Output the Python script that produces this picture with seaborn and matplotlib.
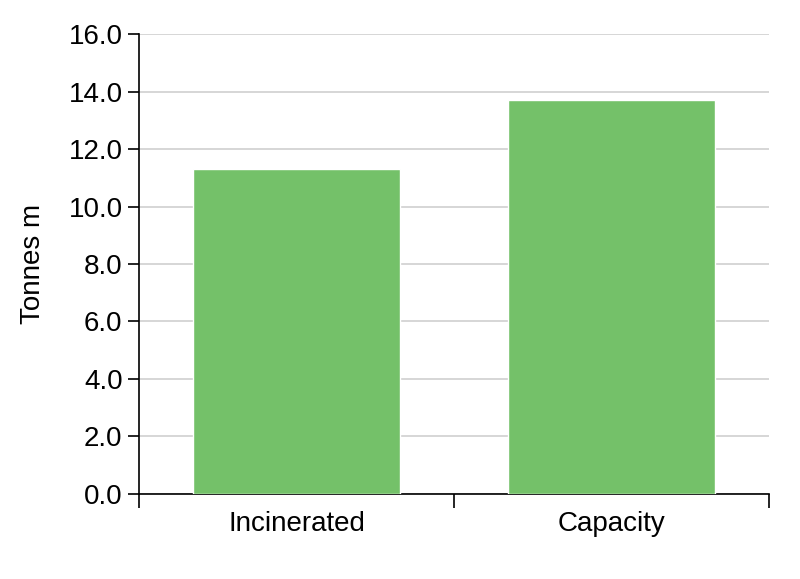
import matplotlib
matplotlib.use("Agg")
import matplotlib.pyplot as plt
import seaborn as sns
import pandas as pd
from matplotlib.ticker import FixedLocator

categories = ["Incinerated", "Capacity"]
values = [11.3, 13.7]
yticks = [0, 2, 4, 6, 8, 10, 12, 14, 16]

sns.set_theme(style="white")
plt.rcParams['font.family'] = ['Liberation Sans', 'DejaVu Sans']
plt.rcParams['text.color'] = 'black'
plt.rcParams['xtick.color'] = 'black'
plt.rcParams['ytick.color'] = 'black'
plt.rcParams['axes.labelcolor'] = 'black'

fig = plt.figure(figsize=(8, 5.79), dpi=100)
ax = fig.add_axes([0.174, 0.147, 0.787, 0.794])

df = pd.DataFrame({"cat": categories, "val": values})
sns.barplot(data=df, x="cat", y="val", color="#74C169", saturation=1, width=0.66, ax=ax, zorder=3)

ax.set_xlim(-0.5, 1.5)
ax.set_ylim(0, 16)
ax.set_yticks(yticks)
ax.set_yticklabels([f"{v:.1f}" for v in yticks], fontsize=20)
ax.yaxis.grid(True, color="#D0D0D0", linewidth=1.2, zorder=0)
ax.set_axisbelow(True)
ax.tick_params(axis="y", which="major", direction="out", length=8, width=1.2, color="black", left=True, pad=4)
ax.tick_params(axis="x", which="major", length=0, labelsize=20, pad=12)
ax.xaxis.set_minor_locator(FixedLocator([-0.5, 0.5, 1.5]))
ax.tick_params(axis="x", which="minor", direction="out", length=10, width=1.2, color="black", bottom=True)

for s in ["top", "right"]:
    ax.spines[s].set_visible(False)
for s in ["left", "bottom"]:
    ax.spines[s].set_color("black")
    ax.spines[s].set_linewidth(1.2)

ax.set_xlabel("")
ax.set_ylabel("Tonnes m", fontsize=20, labelpad=16)

fig.savefig("out.png", dpi=100, facecolor="white")
